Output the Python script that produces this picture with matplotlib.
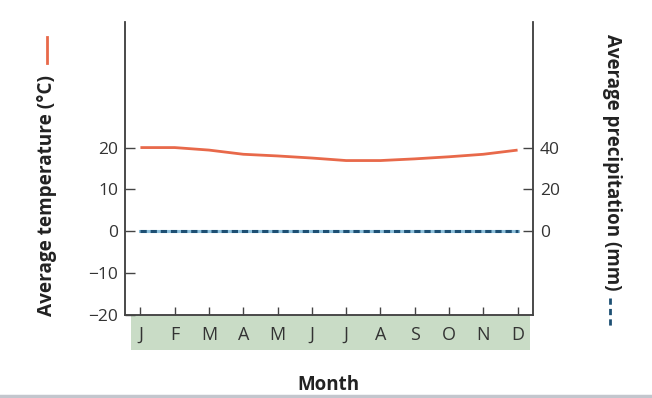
import matplotlib
matplotlib.use("Agg")
import matplotlib.pyplot as plt
from matplotlib.patches import Rectangle
from matplotlib.lines import Line2D

# data
months = ["J", "F", "M", "A", "M", "J", "J", "A", "S", "O", "N", "D"]
temperature = [20.0, 20.0, 19.4, 18.4, 18.0, 17.5, 16.9, 16.9, 17.3, 17.8, 18.4, 19.4]
precipitation = [0, 0, 0, 0, 0, 0, 0, 0, 0, 0, 0, 0]
temp_ticks = [-20, -10, 0, 10, 20]
precip_ticks = [0, 20, 40]

plt.rcParams["font.family"] = ["Open Sans", "DejaVu Sans"]
plt.rcParams["lines.scale_dashes"] = False

W, H = 652, 398
fig = plt.figure(figsize=(W / 100, H / 100), dpi=100)
ax = fig.add_axes([125 / W, 1 - 315 / H, 408 / W, 293 / H])
ax2 = ax.twinx()

x = list(range(len(months)))
text_col = "#333333"
spine_col = "#444444"

# temperature
ax.plot(x, temperature, color="#e8694a", lw=2.0, solid_capstyle="butt", zorder=3)
ax.set_xlim(-0.45, 11.45)
ax.set_ylim(-20, 50)
ax.set_yticks(temp_ticks)
ax.set_xticks(x)
ax.set_xticklabels(months)

# precipitation (dashed, light blue underlay)
ax2.plot(x, precipitation, color="#8fc1dc", lw=2.2, zorder=2)
ax2.plot(x, precipitation, color="#1d4f73", lw=2.2, dashes=(4.5, 2.8), zorder=3)
ax2.set_ylim(-40, 100)
ax2.set_yticks(precip_ticks)

for a in (ax, ax2):
    a.spines["top"].set_visible(False)
    for s in ("left", "right", "bottom"):
        a.spines[s].set_color(spine_col)
        a.spines[s].set_linewidth(1.1)

ax.tick_params(axis="y", direction="in", length=7, width=1.0, color=spine_col,
               labelsize=12.5, labelcolor=text_col, pad=5)
ax.tick_params(axis="x", direction="in", length=6, width=1.0, color=spine_col,
               labelsize=13, labelcolor=text_col, pad=8)
ax2.tick_params(axis="y", direction="in", length=7, width=1.0, color=spine_col,
                labelsize=12.5, labelcolor=text_col, pad=5)

# green band behind month letters
band = Rectangle((6 / 408, -35 / 293), 399 / 408, 35 / 293, transform=ax.transAxes,
                 facecolor="#c9dcc6", edgecolor="none", clip_on=False, zorder=0)
ax.add_patch(band)

# axis titles
fig.text(47 / W, 1 - 196 / H, "Average temperature (°C)", rotation=90, ha="center",
         va="center", fontsize=13.7, fontweight="bold", color="#222222")
fig.text(612 / W, 1 - 162 / H, "Average precipitation (mm)", rotation=270, ha="center",
         va="center", fontsize=13.5, fontweight="bold", color="#222222")
fig.text(328 / W, 1 - 385 / H, "Month", ha="center", va="center", fontsize=13.5,
         fontweight="bold", color="#222222")

# little legend keys next to the axis titles
fig.add_artist(Line2D([47 / W, 47 / W], [1 - 37 / H, 1 - 63 / H], color="#e8694a", lw=2.0,
                      transform=fig.transFigure))
fig.add_artist(Line2D([610 / W, 610 / W], [1 - 298 / H, 1 - 326 / H], color="#1d4f73",
                      lw=2.0, dashes=(4.5, 3.0), transform=fig.transFigure))

# grey rule at the bottom
fig.add_artist(Line2D([0, 1], [1 - 396 / H, 1 - 396 / H], color="#c3c6cd", lw=2.5,
                      transform=fig.transFigure))

fig.savefig("out.png", dpi=100)
